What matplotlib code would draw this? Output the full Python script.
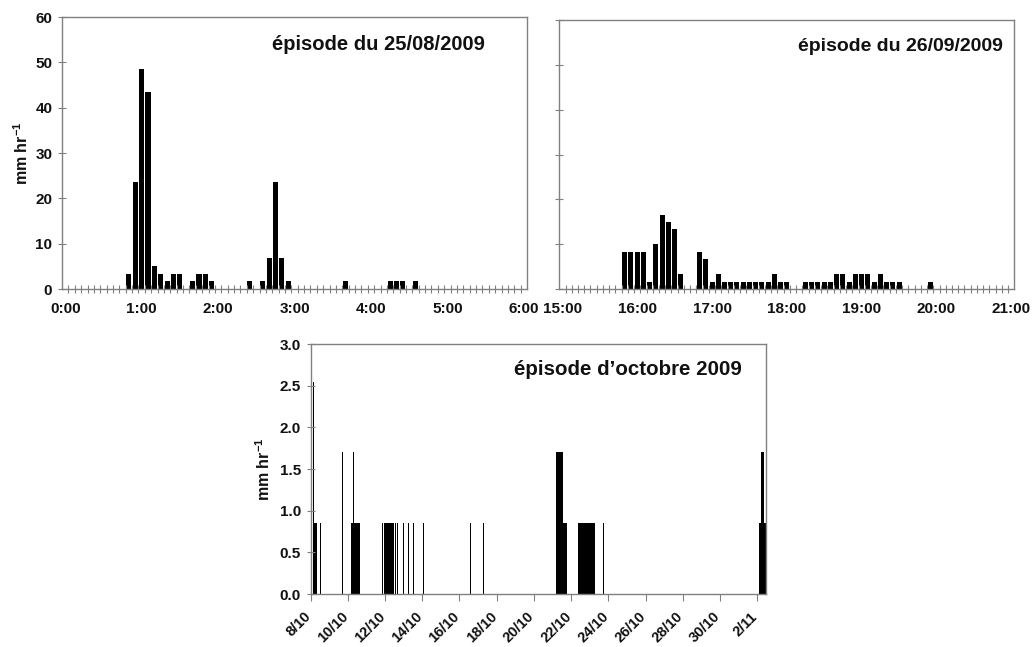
import matplotlib
matplotlib.use("Agg")
import matplotlib.pyplot as plt
from matplotlib.transforms import ScaledTranslation
import numpy as np

plt.rcParams['font.family'] = ['Liberation Sans', 'DejaVu Sans']
plt.rcParams['mathtext.fontset'] = 'custom'
plt.rcParams['mathtext.bf'] = 'Liberation Sans:bold'
plt.rcParams['mathtext.rm'] = 'Liberation Sans:bold'

# Episode 25/08/2009: 5-min rain intensity (mm/hr), minutes after 0:00
aug_minutes = [50, 55, 60, 65, 70, 75, 80, 85, 90, 100, 105, 110, 115,
               145, 155, 160, 165, 170, 175, 220, 255, 260, 265, 275]
aug_values = [3.4, 23.6, 48.6, 43.4, 5.1, 3.4, 1.8, 3.4, 3.4, 1.8, 3.4, 3.4, 1.8,
              1.8, 1.8, 6.9, 23.6, 6.9, 1.8, 1.8, 1.8, 1.8, 1.8, 1.8]

# Episode 26/09/2009: minutes after 15:00
sep_minutes = [50, 55, 60, 65, 70, 75, 80, 85, 90, 95, 110, 115, 120, 125,
               130, 135, 140, 145, 150, 155, 160, 165, 170, 175, 180,
               195, 200, 205, 210, 215, 220, 225, 230, 235, 240, 245,
               250, 255, 260, 265, 270, 295]
sep_values = [8.3, 8.3, 8.3, 8.3, 1.6, 10.0, 16.6, 15.0, 13.3, 3.3, 8.3, 6.6, 1.6, 3.3,
              1.6, 1.6, 1.6, 1.6, 1.6, 1.6, 1.6, 1.6, 3.3, 1.6, 1.6,
              1.6, 1.6, 1.6, 1.6, 1.6, 3.3, 3.3, 1.6, 3.3, 3.3, 3.3,
              1.6, 3.3, 1.6, 1.6, 1.6, 1.6]

# Episode octobre 2009: hourly rain, runs of (start hour after 8/10 0:00, n hours, mm/hr)
oct_start = [3, 4, 12, 41, 52, 55, 56, 63, 92, 95, 109, 112, 116, 119, 126, 132, 145,
             206, 222, 316, 317, 325, 345, 377, 578, 581, 584]
oct_hours = [1, 5, 1, 1, 3, 1, 6, 1, 1, 13, 1, 1, 1, 1, 1, 1, 1,
             1, 1, 1, 8, 6, 22, 1, 3, 3, 3]
oct_values = [2.55, 0.85, 0.85, 1.7, 0.85, 1.7, 0.85, 0.85, 0.85, 0.85, 0.85, 0.85, 0.85,
              0.85, 0.85, 0.85, 0.85, 0.85, 0.85, 0.85, 1.7, 0.85, 0.85, 0.85, 0.85, 1.7, 0.85]
oct_labels = ['8/10', '10/10', '12/10', '14/10', '16/10', '18/10', '20/10',
              '22/10', '24/10', '26/10', '28/10', '30/10', '2/11']

GREY = '#808080'
TXT = '#111111'
YLABEL = r'mm hr$^{\mathbf{-1}}$'


def style_frame(ax):
    for s in ax.spines.values():
        s.set_color(GREY)
        s.set_linewidth(1.0)


def rain_panel(ax, minutes, values, start_hour, title, title_x, title_size, ylabels=True):
    slots = np.array(minutes) / 5.0
    ax.bar(slots, values, width=0.8, color='black', linewidth=0)
    ax.set_xlim(-0.5, 72.5)
    ax.set_ylim(0, 60)
    style_frame(ax)

    ax.set_xticks(np.arange(0, 73, 12))
    ax.set_xticklabels([f"{start_hour + k}:00" for k in range(7)])
    ax.set_xticks(np.arange(0.5, 72, 1), minor=True)
    ax.tick_params(axis='x', which='major', length=0, pad=9,
                   labelsize=11, labelcolor=TXT)
    ax.tick_params(axis='x', which='minor', direction='inout', length=6,
                   width=0.8, color=GREY)

    ax.set_yticks(np.arange(0, 61, 10))
    ax.tick_params(axis='y', direction='inout', length=6, width=0.8, color=GREY,
                   labelsize=11, labelcolor=TXT, pad=4, labelleft=ylabels)
    for lab in ax.get_xticklabels() + ax.get_yticklabels():
        lab.set_fontweight('bold')

    ax.text(title_x, 0.90, title, transform=ax.transAxes, ha='right', va='center',
            fontsize=title_size, fontweight='bold', color=TXT)


fig = plt.figure(figsize=(10.34, 6.47), dpi=100)

ax1 = fig.add_axes([0.060, 0.5533, 0.4497, 0.4204])
rain_panel(ax1, aug_minutes, aug_values, 0, 'épisode du 25/08/2009', 0.91, 14.5)
ax1.set_ylabel(YLABEL, fontsize=11.5, fontweight='bold', color=TXT, labelpad=3)

ax2 = fig.add_axes([0.5409, 0.5533, 0.4401, 0.4158])
rain_panel(ax2, sep_minutes, sep_values, 15, 'épisode du 26/09/2009', 0.975, 14,
           ylabels=False)

# bottom panel: October episode, x in days since 8/10
ax3 = fig.add_axes([0.3003, 0.0819, 0.4405, 0.3864])
ax3.bar(np.array(oct_start) / 24.0, oct_values, width=np.array(oct_hours) / 24.0,
        align='edge', color='black', linewidth=0)
ax3.set_xlim(0, 587 / 24.0)
ax3.set_ylim(0, 3.0)
style_frame(ax3)
ax3.set_xticks(np.arange(0, 25, 2))
ax3.set_xticklabels(oct_labels, rotation=45, ha='right', va='top',
                    rotation_mode='anchor')
ax3.tick_params(axis='x', direction='out', length=5, width=0.8, color=GREY,
                labelsize=10.5, labelcolor=TXT, pad=6)
shift = ScaledTranslation(-5 / 72, 0, fig.dpi_scale_trans)
for lab in ax3.get_xticklabels():
    lab.set_transform(lab.get_transform() + shift)
ax3.set_yticks(np.arange(0, 3.01, 0.5))
ax3.set_yticklabels([f"{v:.1f}" for v in np.arange(0, 3.01, 0.5)])
ax3.tick_params(axis='y', direction='inout', length=6, width=0.8, color=GREY,
                labelsize=11, labelcolor=TXT, pad=4)
for lab in ax3.get_xticklabels() + ax3.get_yticklabels():
    lab.set_fontweight('bold')
ax3.set_ylabel(YLABEL, fontsize=11.5, fontweight='bold', color=TXT, labelpad=5)
ax3.text(0.948, 0.90, 'épisode d\u2019octobre 2009', transform=ax3.transAxes,
         ha='right', va='center', fontsize=14.8, fontweight='bold', color=TXT)

fig.savefig('out.png', dpi=100)
